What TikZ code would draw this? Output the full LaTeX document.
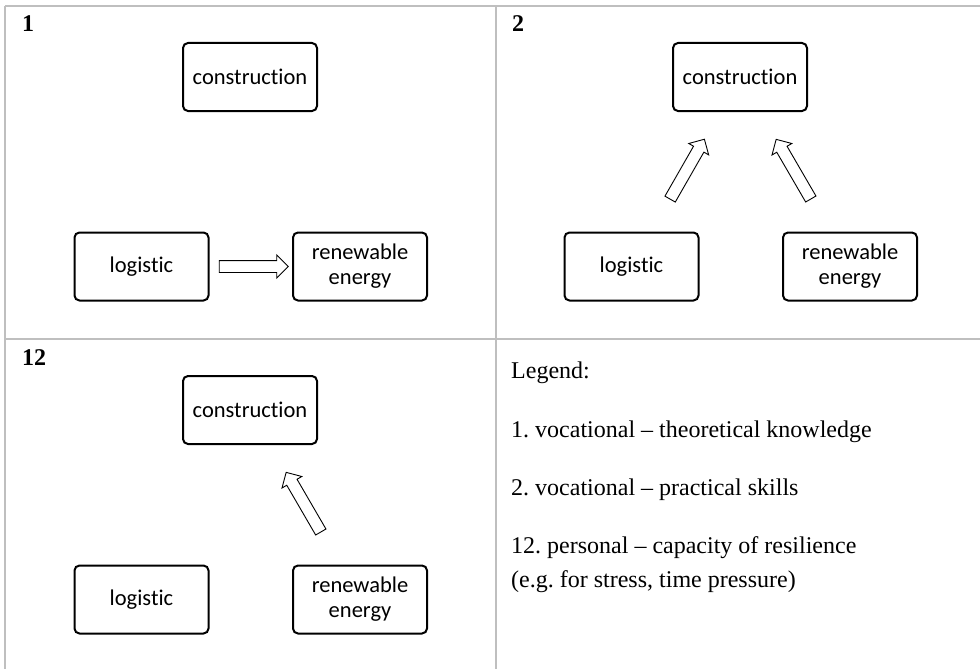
\documentclass[tikz,border=0pt]{standalone}
\usepackage{fontspec}
\setmainfont{Liberation Serif}
\newfontfamily\boxfont[Ligatures=NoCommon]{Carlito}
\usetikzlibrary{shapes.arrows}
\frenchspacing

\begin{document}
\begin{tikzpicture}[
            x = 1pt, y = -1pt,
            box/.style = {draw, line width = 2pt, rounded corners = 5pt, minimum width = 134pt, minimum height = 68pt, align = center, font = \boxfont\fontsize{22.5}{25}\selectfont},
            blockarrow/.style = {draw, line width = 0.9pt, single arrow, single arrow head extend = 5.5pt, inner sep = 5.5pt, minimum height = 69pt, sloped, allow upside down, midway},
            gridline/.style = {draw = black!25, line width = 1.3pt},
            panel/.style = {anchor = base west, inner sep = 0pt, font = \bfseries\fontsize{24}{28}\selectfont},
            legend/.style = {anchor = base west, inner sep = 0pt, align = left, font = \fontsize{24}{34}\selectfont}
        ]
        \useasboundingbox (0,0) rectangle (980,669);
        \draw[gridline] (5,6) -- (980,6);
        \draw[gridline] (5,339) -- (980,339);
        \draw[gridline] (5,6) -- (5,669);
        \draw[gridline] (496,6) -- (496,669);

        \foreach \p/\dx/\dy in {1/0/0, 2/490/0, 12/0/333} {
            \node[panel] (num\p) at (22+\dx,32+\dy) {\p};
            \node[box] (con\p) at (250+\dx,77+\dy) {construction};
            \node[box] (log\p) at (141.5+\dx,266.5+\dy) {logistic};
            \node[box] (ren\p) at (360+\dx,266.5+\dy) {renewable\\energy};
        }

        \path (log1) -- node[blockarrow] (arr1) {} (ren1);
        \path (log2) -- node[blockarrow] (arr2a) {} (con2);
        \path (ren2) -- node[blockarrow] (arr2b) {} (con2);
        \path (ren12) -- node[blockarrow] (arr12) {} (con12);

        % multi-line node: base is the last line
        \node[legend] (leg) at (511,378) {Legend:};
        \node[legend] (leg1) at (511,437) {1. vocational -- theoretical knowledge};
        \node[legend] (leg2) at (511,495) {2. vocational -- practical skills};
        \node[legend] (leg12) at (511,587) {12. personal -- capacity of resilience\\(e.g. for stress, time pressure)};
    \end{tikzpicture}
\end{document}
